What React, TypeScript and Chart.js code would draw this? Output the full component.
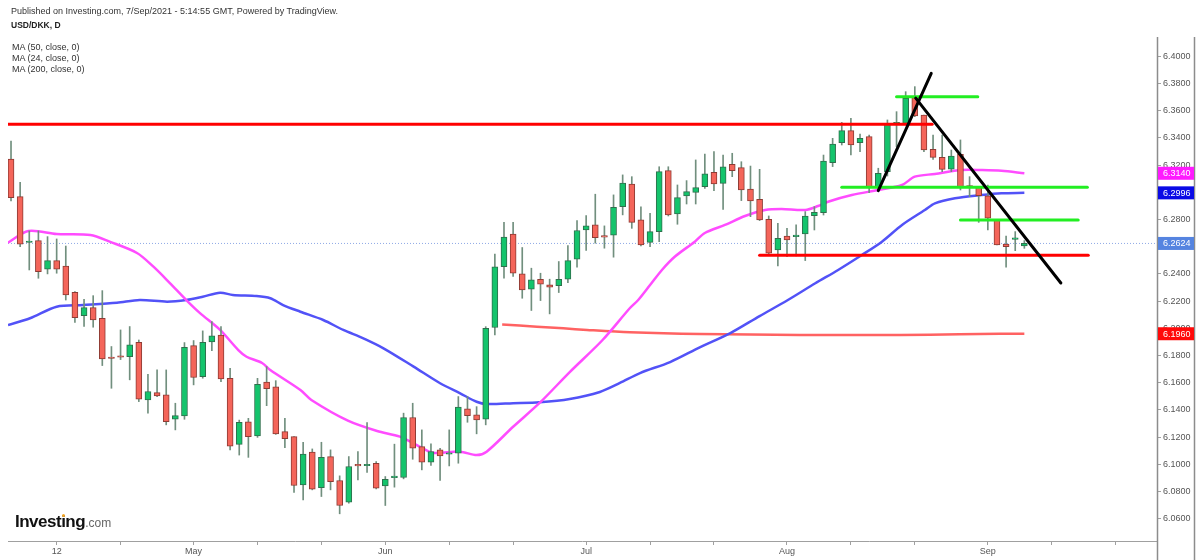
import React, { useEffect, useRef } from "react";
import { Chart, registerables } from "chart.js";

Chart.register(...registerables);

const FONT = "'Liberation Sans', Arial, Helvetica, sans-serif";

// Daily candles, index 0 = 5 Apr 2021 ... index 111 = 7 Sep 2021 (trading days)
const opens = [6.3245,6.2968,6.2631,6.2645,6.2434,6.2498,6.2458,6.2265,6.2093,6.2152,
6.2074,6.1780,6.1797,6.1792,6.1897,6.1473,6.1527,6.1510,6.1331,6.1356,
6.1873,6.1645,6.1900,6.1951,6.1632,6.1147,6.1313,6.1208,6.1605,6.1570,
6.1240,6.1204,6.0848,6.1089,6.0829,6.1057,6.0881,6.0721,6.0992,6.0989,
6.1008,6.0841,6.0902,6.0903,6.1344,6.1130,6.1015,6.1106,6.1074,6.1081,
6.1407,6.1363,6.1331,6.2006,6.2454,6.2692,6.2400,6.2287,6.2361,6.2319,
6.2314,6.2361,6.2508,6.2724,6.2760,6.2679,6.2684,6.2895,6.3061,6.2797,
6.2632,6.2711,6.3159,6.2841,6.2973,6.2999,6.3041,6.3147,6.3066,6.3206,
6.3181,6.3024,6.2948,6.2801,6.2576,6.2679,6.2674,6.2694,6.2828,6.2850,
6.3218,6.3365,6.3453,6.3365,6.3409,6.3037,6.3152,6.3502,6.3507,6.3696,
6.3568,6.3316,6.3257,6.3171,6.3279,6.3044,6.3037,6.2975,6.2801,6.2620,
6.2654,6.2605];

const highs = [6.3377,6.3073,6.2716,6.2716,6.2674,6.2657,6.2605,6.2270,6.2213,6.2240,
6.2277,6.1866,6.1988,6.2013,6.1914,6.1662,6.1694,6.1694,6.1449,6.1895,
6.1910,6.1981,6.2049,6.2013,6.1705,6.1325,6.1338,6.1632,6.1718,6.1615,
6.1338,6.1204,6.1161,6.1113,6.1162,6.1106,6.0915,6.1057,6.1094,6.1307,
6.1020,6.0910,6.1148,6.1376,6.1449,6.1253,6.1150,6.1118,6.1253,6.1498,
6.1498,6.1424,6.2012,6.2545,6.2780,6.2780,6.2594,6.2442,6.2405,6.2361,
6.2491,6.2608,6.2792,6.2829,6.2986,6.2753,6.2981,6.3128,6.3115,6.2894,
6.2845,6.3188,6.3188,6.3054,6.3086,6.3238,6.3282,6.3299,6.3274,6.3287,
6.3225,6.3193,6.3169,6.2826,6.2772,6.2735,6.2760,6.2858,6.2895,6.3274,
6.3397,6.3514,6.3544,6.3429,6.3421,6.3177,6.3532,6.3593,6.3740,6.3777,
6.3568,6.3421,6.3421,6.3311,6.3385,6.3115,6.3042,6.3054,6.2801,6.2679,
6.2711,6.2645];

const lows = [6.2936,6.2600,6.2429,6.2368,6.2400,6.2405,6.2208,6.2044,6.2013,6.2008,
6.1726,6.1559,6.1770,6.1621,6.1461,6.1376,6.1498,6.1290,6.1253,6.1331,
6.1584,6.1633,6.1836,6.1608,6.1105,6.1068,6.1051,6.1198,6.1431,6.1220,
6.1122,6.0794,6.0738,6.0812,6.0763,6.0812,6.0636,6.0714,6.0886,6.0940,
6.0819,6.0697,6.0832,6.0893,6.1037,6.0959,6.0991,6.0881,6.0988,6.1008,
6.1309,6.1224,6.1290,6.1952,6.2368,6.2381,6.2221,6.2131,6.2204,6.2106,
6.2263,6.2336,6.2449,6.2572,6.2626,6.2589,6.2523,6.2834,6.2735,6.2605,
6.2600,6.2637,6.2826,6.2765,6.2914,6.2914,6.3029,6.3012,6.2875,6.3115,
6.2939,6.2821,6.2792,6.2547,6.2458,6.2527,6.2532,6.2498,6.2723,6.2833,
6.3189,6.3348,6.3274,6.3299,6.2997,6.3022,6.3120,6.3336,6.3495,6.3556,
6.3299,6.3242,6.3152,6.3152,6.3017,6.2968,6.2779,6.2723,6.2613,6.2449,
6.2571,6.2588];

const closes = [6.2961,6.2618,6.2635,6.2417,6.2498,6.2434,6.2245,6.2079,6.2152,6.2061,
6.1775,6.1778,6.1787,6.1878,6.1478,6.1535,6.1503,6.1314,6.1358,6.1861,
6.1638,6.1897,6.1944,6.1628,6.1134,6.1308,6.1203,6.1588,6.1556,6.1223,
6.1188,6.0844,6.1076,6.0817,6.1052,6.0873,6.0697,6.0984,6.0988,6.0991,
6.0824,6.0890,6.0904,6.1344,6.1118,6.1015,6.1094,6.1062,6.1075,6.1420,
6.1358,6.1326,6.2000,6.2452,6.2670,6.2405,6.2283,6.2356,6.2324,6.2302,
6.2361,6.2498,6.2719,6.2753,6.2667,6.2670,6.2890,6.3067,6.2779,6.2613,
6.2711,6.3152,6.2833,6.2961,6.3005,6.3034,6.3135,6.3061,6.3188,6.3159,
6.3017,6.2936,6.2797,6.2552,6.2662,6.2650,6.2686,6.2826,6.2853,6.3230,
6.3355,6.3453,6.3348,6.3397,6.3037,6.3140,6.3502,6.3515,6.3691,6.3561,
6.3311,6.3257,6.3169,6.3267,6.3037,6.3039,6.2975,6.2809,6.2613,6.2600,
6.2655,6.2624];

// Moving averages (candle index, value)
const ma24X = [-0.33,1.9,5.0,8.7,10.8,13.8,15.6,17.4,19.2,20.7,22.9,24.9,25.8,27.5,28.4,31.7,32.9,36.9,40.1,42.6,44.8,46.2,49.2,51.0,52.1,55.0,57.9,61.2,64.8,67.8,68.7,70.0,71.3,72.7,74.9,76.0,78.2,80.4,82.6,84.4,87.0,88.4,89.5,92.1,95.0,97.6,99.0,101.2,104.1,106.3,108.5,111.0];
const ma24Y = [6.2630,6.2715,6.2693,6.2686,6.2637,6.2554,6.2453,6.2333,6.2208,6.2112,6.1988,6.1840,6.1791,6.1745,6.1693,6.1546,6.1473,6.1321,6.1245,6.1203,6.1129,6.1085,6.1093,6.1068,6.1093,6.1276,6.1451,6.1678,6.1914,6.2149,6.2208,6.2318,6.2429,6.2526,6.2637,6.2701,6.2760,6.2826,6.2870,6.2877,6.2870,6.2899,6.2931,6.2980,6.3017,6.3054,6.3115,6.3135,6.3164,6.3164,6.3159,6.3140];

const ma50X = [-0.33,2.08,5.0,7.9,11.6,14.1,17.1,19.2,21.0,22.9,24.3,26.9,28.4,29.8,31.7,34.2,36.4,38.6,40.8,44.1,47.0,49.2,51.0,52.1,55.0,57.9,61.2,64.5,66.7,68.9,72.2,75.5,78.8,82.0,85.1,88.1,90.6,93.2,95.4,97.6,100.1,101.2,103.4,106.3,108.5,111.0];
const ma50Y = [6.2024,6.2074,6.2159,6.2171,6.2188,6.2208,6.2196,6.2208,6.2232,6.2262,6.2245,6.2237,6.2221,6.2171,6.2122,6.2061,6.1988,6.1926,6.1853,6.1718,6.1596,6.1522,6.1460,6.1443,6.1449,6.1456,6.1480,6.1532,6.1598,6.1671,6.1752,6.1862,6.1965,6.2090,6.2208,6.2331,6.2429,6.2539,6.2637,6.2760,6.2870,6.2919,6.2956,6.2980,6.2993,6.2996];

const ma200X = [53.8,57.6,60.5,63.1,67.8,75.5,86.4,97.4,103.9,108.3,111.0];
const ma200Y = [6.2028,6.2012,6.2000,6.1988,6.1971,6.1958,6.1951,6.1951,6.1956,6.1960,6.1960];

// Drawn levels and trend lines: [x0, y0, x1, y1]
const redLevels = [
  [-0.33, 6.3500, 100.9, 6.3500],
  [82.0, 6.2537, 118.0, 6.2537],
];
const greenLevels = [
  [97.0, 6.3703, 105.9, 6.3703],
  [91.0, 6.3037, 117.9, 6.3037],
  [104.0, 6.2796, 116.9, 6.2796],
];
const blackTrends = [
  [95.0, 6.3012, 100.8, 6.3875],
  [99.1, 6.3693, 115.0, 6.2333],
];

const yTicks = [6.06,6.08,6.10,6.12,6.14,6.16,6.18,6.20,6.22,6.24,6.26,6.28,6.30,6.32,6.34,6.36,6.38,6.40];
const xTickIdx = [5,12,20,27,34,41,48,55,63,70,77,85,92,99,107,114,121];
const xTickText = ["12","","May","","","Jun","","","Jul","","","Aug","","","Sep","",""];

const X_MIN = -0.33;
const X_MAX = 125.53;
const Y_MIN = 6.0436;
const Y_MAX = 6.4142;

const UP_FILL = "#14c46c";
const UP_EDGE = "#2f6f4c";
const DN_FILL = "#f4655a";
const DN_EDGE = "#8e3b34";
const WICK = "#718f7e";

const last = closes.length - 1;
const priceTags: [number, string][] = [
  [ma24Y[ma24Y.length - 1], "#ff1aff"],
  [ma50Y[ma50Y.length - 1], "#0a0ae6"],
  [closes[last], "#5584e0"],
  [ma200Y[ma200Y.length - 1], "#ff0a0a"],
];

const segs = (arr: number[][], color: string, width: number, order: number) =>
  arr.map((s) => ({
    type: "line" as const,
    data: [{ x: s[0], y: s[1] }, { x: s[2], y: s[3] }],
    borderColor: color,
    borderWidth: width,
    pointRadius: 0,
    fill: false,
    tension: 0,
    order,
    borderCapStyle: "round" as const,
  }));

const overlayPlugin = {
  id: "overlay",
  afterDraw(chart: any) {
    const { ctx, chartArea, scales } = chart;
    const ys = scales.y;
    const right = Math.round(chartArea.right);
    ctx.save();
    ctx.strokeStyle = "#a0a0a0";
    ctx.lineWidth = 1;
    ctx.beginPath();
    ctx.moveTo(chartArea.left, Math.round(chartArea.bottom) + 0.5);
    ctx.lineTo(right, Math.round(chartArea.bottom) + 0.5);
    ctx.stroke();
    ctx.strokeStyle = "#8c8c8c";
    ctx.lineWidth = 1.5;
    ctx.beginPath();
    ctx.moveTo(right + 0.5, chartArea.top);
    ctx.lineTo(right + 0.5, chart.height);
    ctx.moveTo(right + 37.5, chartArea.top);
    ctx.lineTo(right + 37.5, chart.height);
    ctx.stroke();
    ctx.font = `9px ${FONT}`;
    ctx.textBaseline = "middle";
    ctx.textAlign = "left";
    for (const [v, c] of priceTags) {
      const py = ys.getPixelForValue(v);
      ctx.fillStyle = c;
      ctx.fillRect(right + 1, py - 6.5, 36, 13);
      ctx.fillStyle = "#ffffff";
      ctx.fillText(v.toFixed(4), right + 6, py + 0.5);
    }
    ctx.restore();
  },
};

export default function App() {
  const ref = useRef<HTMLCanvasElement | null>(null);

  useEffect(() => {
    if (!ref.current) return;
    Chart.defaults.font.family = FONT;
    const idx = closes.map((_, i) => i);
    const up = idx.map((i) => closes[i] >= opens[i]);
    const chart = new Chart(ref.current, {
      type: "bar",
      data: {
        datasets: [
          {
            type: "line",
            data: [{ x: X_MIN, y: closes[last] }, { x: X_MAX, y: closes[last] }],
            borderColor: "#8fa9e6",
            borderWidth: 1,
            borderDash: [1, 2],
            pointRadius: 0,
            order: 20,
          },
          {
            type: "line",
            data: ma200X.map((x, i) => ({ x, y: ma200Y[i] })),
            borderColor: "#ff6262",
            borderWidth: 2.5,
            pointRadius: 0,
            tension: 0.3,
            order: 9,
          },
          {
            type: "line",
            data: ma50X.map((x, i) => ({ x, y: ma50Y[i] })),
            borderColor: "#5252f7",
            borderWidth: 2.5,
            pointRadius: 0,
            tension: 0.3,
            order: 8,
          },
          {
            type: "line",
            data: ma24X.map((x, i) => ({ x, y: ma24Y[i] })),
            borderColor: "#ff4cff",
            borderWidth: 2.5,
            pointRadius: 0,
            tension: 0.3,
            order: 7,
          },
          {
            type: "bar",
            data: idx.map((i) => ({ x: i, y: [lows[i], highs[i]] })),
            backgroundColor: WICK,
            barThickness: 1,
            grouped: false,
            order: 6,
          },
          {
            type: "bar",
            data: idx.map((i) => ({ x: i, y: [opens[i], closes[i]] })),
            backgroundColor: up.map((u) => (u ? UP_FILL : DN_FILL)),
            borderColor: up.map((u) => (u ? UP_EDGE : DN_EDGE)),
            borderWidth: 1,
            borderSkipped: false,
            barThickness: 6,
            minBarLength: 1.5,
            grouped: false,
            order: 5,
          },
          ...segs(redLevels, "#ff0000", 3, 3),
          ...segs(greenLevels, "#22ee22", 3, 3),
          ...segs(blackTrends, "#000000", 3, 2),
        ] as any,
      },
      options: {
        animation: false,
        responsive: true,
        maintainAspectRatio: false,
        layout: { padding: { left: 8, right: 6, top: 37, bottom: 0 } },
        plugins: { legend: { display: false }, tooltip: { enabled: false } },
        scales: {
          x: {
            type: "linear",
            min: X_MIN,
            max: X_MAX,
            offset: false,
            afterBuildTicks: (s: any) => {
              s.ticks = xTickIdx.map((v) => ({ value: v }));
            },
            afterFit: (s: any) => {
              s.height = 19;
            },
            grid: { drawOnChartArea: false, offset: false, tickLength: 4, color: "#a0a0a0" },
            border: { display: false },
            ticks: {
              autoSkip: false,
              maxRotation: 0,
              padding: 1,
              color: "#555555",
              font: { size: 9, family: FONT },
              callback: (v: any) => {
                const k = xTickIdx.indexOf(Number(v));
                return k >= 0 ? xTickText[k] : "";
              },
            },
          },
          y: {
            type: "linear",
            position: "right",
            min: Y_MIN,
            max: Y_MAX,
            afterBuildTicks: (s: any) => {
              s.ticks = yTicks.map((v) => ({ value: v }));
            },
            afterFit: (s: any) => {
              s.width = 37;
            },
            grid: { drawOnChartArea: false, tickLength: 4, color: "#a0a0a0" },
            border: { display: false },
            ticks: {
              autoSkip: false,
              padding: 2,
              color: "#555555",
              font: { size: 9, family: FONT },
              callback: (v: any) => Number(v).toFixed(4),
            },
          },
        },
      } as any,
      plugins: [overlayPlugin],
    });
    return () => chart.destroy();
  }, []);

  const txt: React.CSSProperties = {
    position: "absolute",
    left: 11,
    fontFamily: FONT,
    fontSize: 9,
    lineHeight: "9px",
    color: "#333333",
    whiteSpace: "nowrap",
  };

  return (
    <div style={{ position: "absolute", left: 0, top: 0, width: 1200, height: 560, background: "#ffffff", overflow: "hidden" }}>
      <div style={{ position: "absolute", left: 0, top: 0, width: 1200, height: 560 }}>
        <canvas ref={ref} />
      </div>
      <div style={{ ...txt, top: 7 }}>Published on Investing.com, 7/Sep/2021 - 5:14:55 GMT, Powered by TradingView.</div>
      <div style={{ ...txt, top: 21, fontWeight: "bold", fontSize: 8.5, color: "#222" }}>USD/DKK, D</div>
      <div style={{ ...txt, left: 12, top: 43 }}>MA (50, close, 0)</div>
      <div style={{ ...txt, left: 12, top: 54 }}>MA (24, close, 0)</div>
      <div style={{ ...txt, left: 12, top: 65 }}>MA (200, close, 0)</div>
      <div style={{ position: "absolute", left: 15, top: 513, fontFamily: FONT, lineHeight: "17px", whiteSpace: "nowrap" }}>
        <span style={{ fontWeight: "bold", fontSize: 17, color: "#111", letterSpacing: "-0.5px" }}>Investing</span>
        <span style={{ fontSize: 12, color: "#666" }}>.com</span>
      </div>
      <div style={{ position: "absolute", left: 62, top: 514, width: 3, height: 3, borderRadius: 2, background: "#f5a623" }} />
    </div>
  );
}
